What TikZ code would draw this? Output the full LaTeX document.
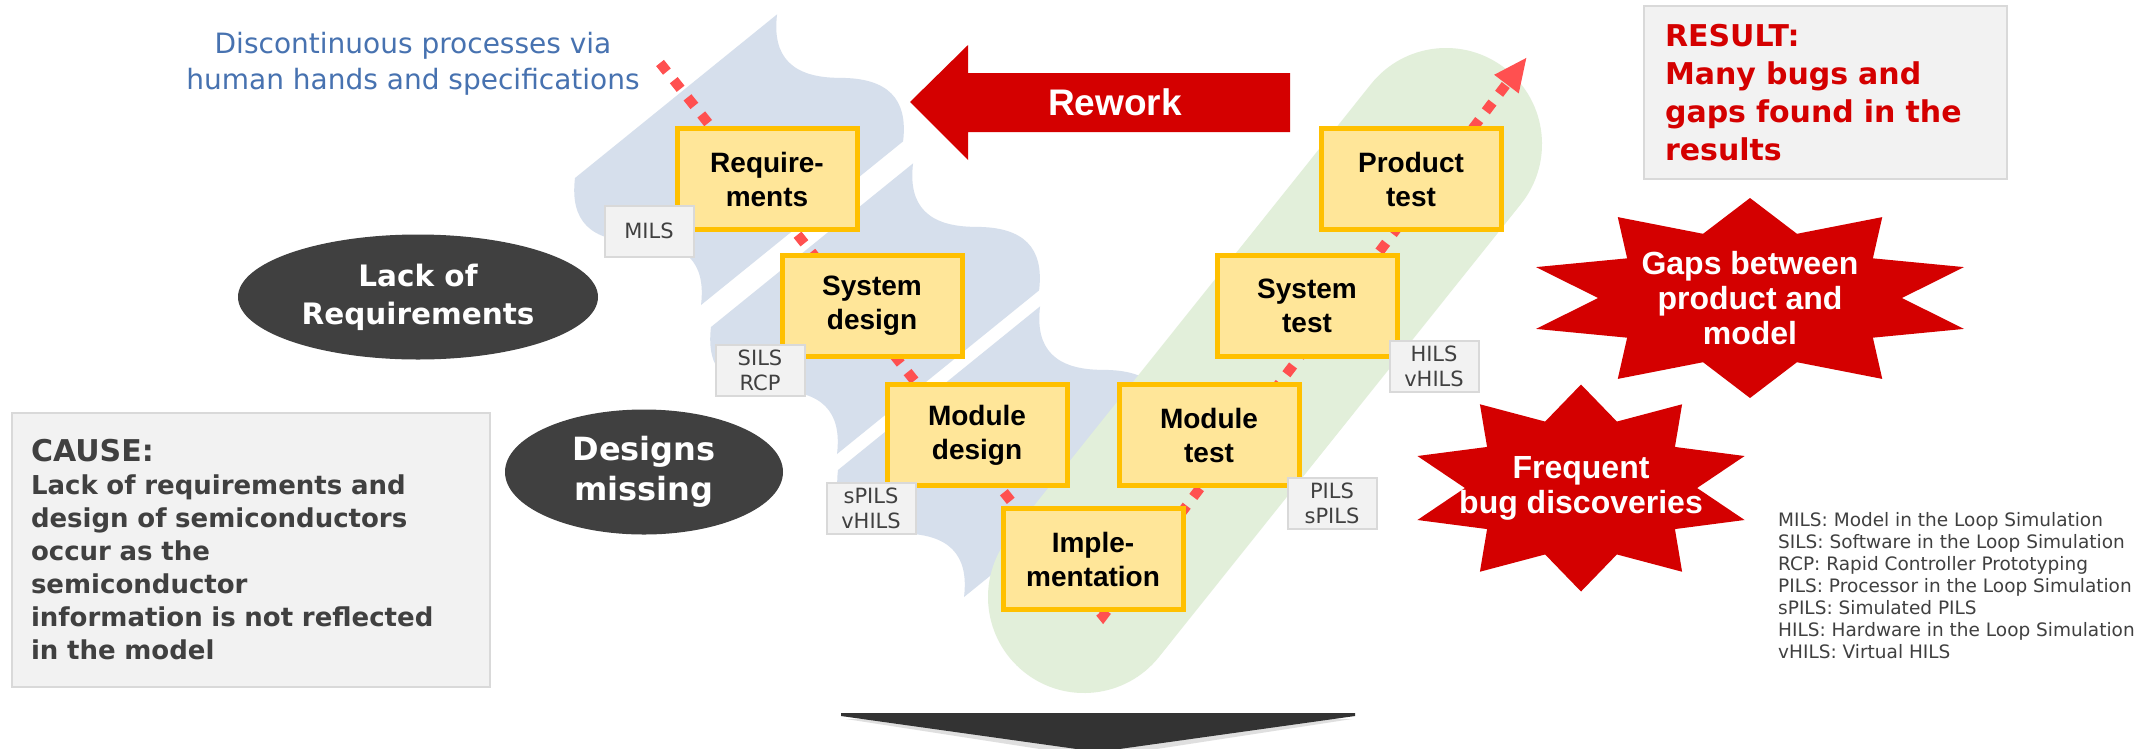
\documentclass[tikz,border=0pt]{standalone}
\usepackage{fontspec}
\setmainfont{DejaVu Sans}
\newfontfamily\arialfont{Liberation Sans}
\usetikzlibrary{shapes.geometric,arrows.meta}

\definecolor{stepfill}{HTML}{FFE699}
\definecolor{stepline}{HTML}{FFC000}
\definecolor{tagfill}{HTML}{F2F2F2}
\definecolor{tagline}{HTML}{D9D9D9}
\definecolor{inkgray}{HTML}{404040}
\definecolor{alarm}{HTML}{D40000}
\definecolor{dotred}{HTML}{FF5050}
\definecolor{leftband}{HTML}{D6DFEC}
\definecolor{rightband}{HTML}{E2EFDA}
\definecolor{notecol}{HTML}{4772B0}
\definecolor{chevron}{HTML}{333333}

\begin{document}
\begin{tikzpicture}[>={Triangle[length=34pt,width=28pt]}, x=1pt, y=-1pt,
  stepbox/.style={draw=stepline, line width=5pt, fill=stepfill, minimum width=180pt, minimum height=101pt,
    align=center, font=\arialfont\bfseries\fontsize{28}{34}\selectfont},
  simtag/.style={draw=tagline, line width=2pt, fill=tagfill, text=inkgray, minimum width=89pt, minimum height=51pt,
    inner sep=1pt, align=center, font=\fontsize{21}{25}\selectfont},
  darkoval/.style={ellipse, fill=inkgray, text=white, align=center, inner sep=0pt},
  notebox/.style={draw=tagline, line width=2pt, fill=tagfill, anchor=north west, align=left},
  bursttext/.style={text=white, align=center, font=\arialfont\bfseries\fontsize{32}{35}\selectfont},
  wave/.pic={\fill[leftband] (0,0) -- (260,0) .. controls (229,30) and (232,59) .. (269,89)
    .. controls (306,119) and (309,148) .. (278,178) -- (18,178) .. controls (49,148) and (46,119) .. (9,89)
    .. controls (-28,59) and (-31,30) .. (0,0) -- cycle;}]
\useasboundingbox (0,0) rectangle (2152,748);
\fill[white] (0,0) rectangle (2152,748);

% hand-over bands (left) and the test band (right)
\pic[rotate=39] at (575,178) {wave};
\pic[rotate=39] at (711,327) {wave};
\pic[rotate=39] at (838,470) {wave};
\draw[rightband, line width=192pt, line cap=round] (1084,597) -- (1446,144);

\node[text=notecol, align=center, font=\fontsize{28}{36}\selectfont] (discont) at (413,64) {Discontinuous processes via\\human hands and specifications};

% V-model flow
\coordinate (start) at (660,63);
\coordinate (vtip) at (1103,616);
\coordinate (goal) at (1527,57);
\draw[dotred, line width=10pt, dash pattern=on 11pt off 11pt, ->] (start) -- (vtip) -- (goal);

\node[stepbox] (req) at (767,179) {Require-\\ments};
\node[stepbox] (sysd) at (872,306) {System\\design};
\node[stepbox] (modd) at (977,435) {Module\\design};
\node[stepbox] (impl) at (1093,559) {Imple-\\mentation};
\node[stepbox] (modt) at (1209,435) {Module\\test};
\node[stepbox] (syst) at (1307,306) {System\\test};
\node[stepbox] (prodt) at (1411,179) {Product\\test};

\node[simtag] (mils) at (649,231) {MILS};
\node[simtag] (sils) at (760,370) {SILS\\RCP};
\node[simtag] (spils) at (871,508) {sPILS\\vHILS};
\node[simtag] (pils) at (1332,503) {PILS\\sPILS};
\node[simtag] (hils) at (1434,366) {HILS\\vHILS};

% rework arrow
\fill[alarm] (910,102) -- (968,45) -- (968,73) -- (1290,73) -- (1290,132) -- (968,132) -- (968,160) -- cycle;
\node[text=white, font=\arialfont\bfseries\fontsize{37}{40}\selectfont] (rework) at (1115,102) {Rework};

\node[darkoval, minimum width=360pt, minimum height=125pt, font=\bfseries\fontsize{29.5}{38}\selectfont] (lackreq) at (418,297) {Lack of\\Requirements};
\node[darkoval, minimum width=278pt, minimum height=125pt, font=\bfseries\fontsize{32}{40}\selectfont] (designs) at (644,472) {Designs\\missing};

\node[notebox, minimum width=478pt, minimum height=274pt, text width=440pt, text=inkgray,
  font=\bfseries\fontsize{26}{33}\selectfont] (cause) at (11,412)
  {{\fontsize{30}{35}\selectfont CAUSE:}\\Lack of requirements and\\design of semiconductors\\occur as the\\semiconductor\\information is not reflected\\in the model};
\node[notebox, minimum width=363pt, minimum height=173pt, text width=321pt, text=alarm,
  font=\bfseries\fontsize{30}{38}\selectfont] (result) at (1643,5) {RESULT:\\Many bugs and\\gaps found in the\\results};

% bursts
\fill[alarm] plot[samples at={0,...,19}] ({1750+225*(1-0.325*mod(\x,2))*cos(90+18*\x)}, {298-100*(1-0.325*mod(\x,2))*sin(90+18*\x)}) -- cycle;
\node[bursttext] (gaps) at (1750,298) {Gaps between\\product and\\model};
\fill[alarm] plot[samples at={0,...,19}] ({1581+172*(1-0.325*mod(\x,2))*cos(90+18*\x)}, {488-103.5*(1-0.325*mod(\x,2))*sin(90+18*\x)}) -- cycle;
\node[bursttext] (bugs) at (1581,488) {Frequent\\bug discoveries};

\node[anchor=north west, align=left, inner sep=0pt, text=inkgray, font=\fontsize{18.5}{22}\selectfont] (legend) at (1778,512)
  {MILS: Model in the Loop Simulation\\SILS: Software in the Loop Simulation\\RCP: Rapid Controller Prototyping\\PILS: Processor in the Loop Simulation\\sPILS: Simulated PILS\\HILS: Hardware in the Loop Simulation\\vHILS: Virtual HILS};

% bottom chevron
\fill[gray!25] (846,719) -- (1352,719) -- (1098,758) -- cycle;
\fill[chevron] (841,713) -- (1355,713) -- (1355,716) -- (1098,752) -- (841,716) -- cycle;
\end{tikzpicture}
\end{document}
